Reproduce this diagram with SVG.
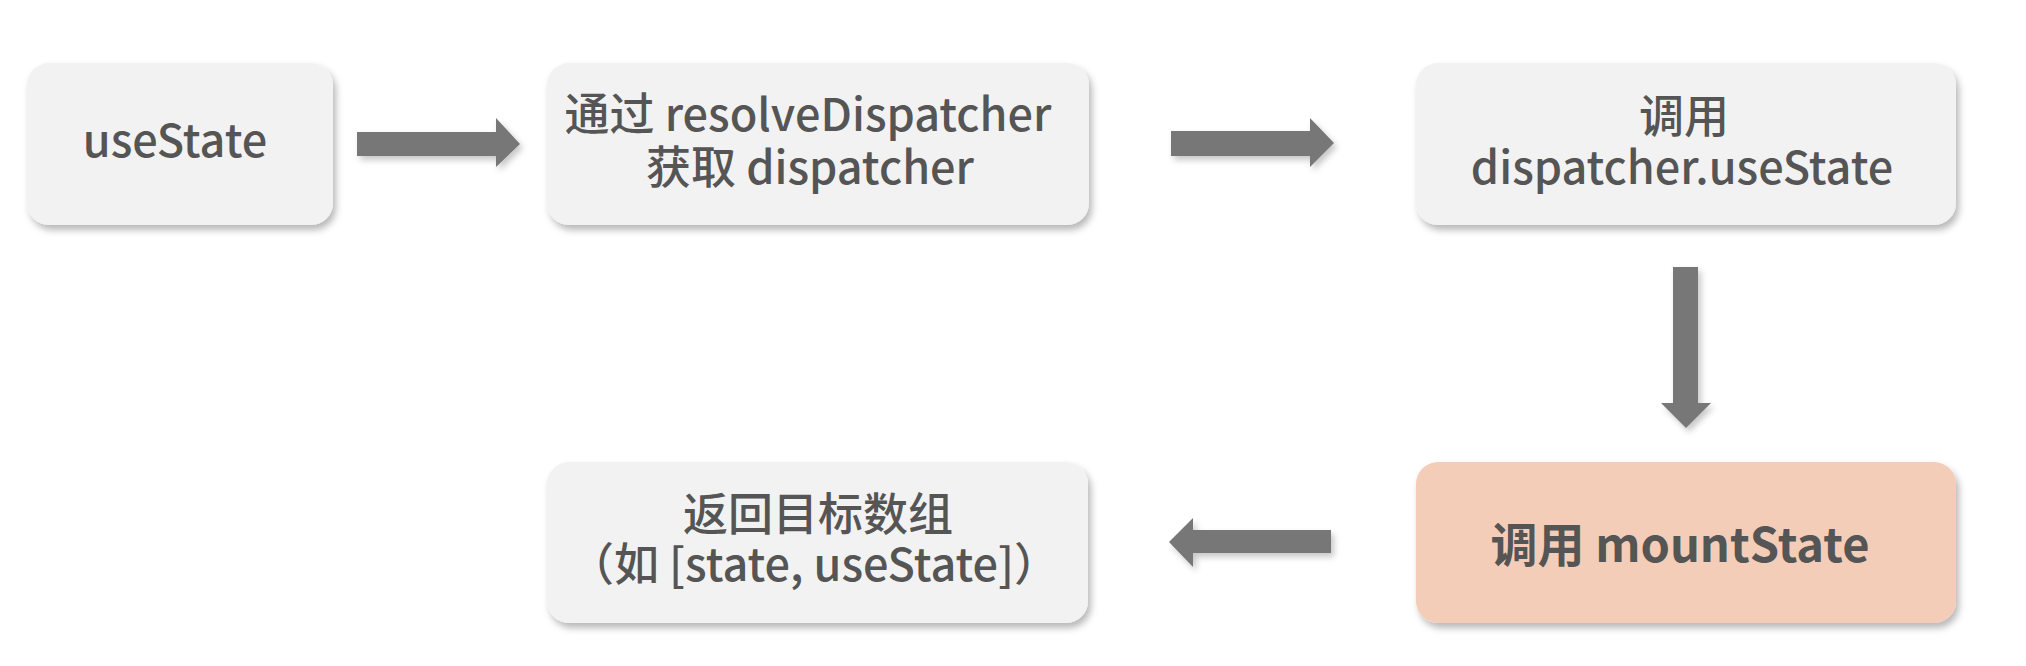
<svg xmlns="http://www.w3.org/2000/svg" width="2026" height="666" viewBox="0 0 2026 666">
<defs>
<filter id="sh" x="-10%" y="-10%" width="120%" height="130%">
<feDropShadow dx="3" dy="5" stdDeviation="3.5" flood-color="#000" flood-opacity="0.28"/>
</filter>
<filter id="ash" x="-20%" y="-30%" width="140%" height="170%">
<feDropShadow dx="3" dy="4" stdDeviation="3" flood-color="#000" flood-opacity="0.22"/>
</filter>
</defs>
<style>
.box{fill:#f2f2f2;filter:url(#sh)}
.hot{fill:#f4cdb8;filter:url(#sh)}
.t{font-family:"Noto Sans CJK SC","Noto Sans",sans-serif;font-size:45px;font-weight:500;fill:#555555;text-anchor:middle}
.b{font-weight:bold;font-size:47px}
.arr{fill:#777777;filter:url(#ash)}
</style>
<rect width="2026" height="666" fill="#ffffff"/>
<g id="n1">
<rect class="box" x="27" y="63" width="306" height="162" rx="22"/>
<text class="t" x="175" y="157">useState</text>
</g>
<g id="n2">
<rect class="box" x="547" y="63" width="542" height="162" rx="22"/>
<text class="t" x="808" y="131">通过 resolveDispatcher</text>
<text class="t" x="810" y="184">获取 dispatcher</text>
</g>
<g id="n3">
<rect class="box" x="1416" y="63" width="540" height="162" rx="22"/>
<text class="t" x="1684" y="133">调用</text>
<text class="t" x="1682" y="184">dispatcher.useState</text>
</g>
<g id="n4">
<rect class="hot" x="1416" y="462" width="540" height="161" rx="22"/>
<text class="t b" x="1680" y="562">调用 mountState</text>
</g>
<g id="n5">
<rect class="box" x="547" y="462" width="541" height="161" rx="22"/>
<text class="t" x="818" y="531">返回目标数组</text>
<text class="t" x="814" y="581">（如 [state, useState]）</text>
</g>
<g id="connectors">
<polygon class="arr" points="357,132 496,132 496,118 520,144 496,167 496,156 357,156"/>
<polygon class="arr" points="1171,131 1310,131 1310,118 1334,143 1310,167 1310,156 1171,156"/>
<polygon class="arr" points="1673,267 1698,267 1698,403 1711,403 1686,428 1661,403 1673,403"/>
<polygon class="arr" points="1331,530 1193,530 1193,518 1169,542 1193,567 1193,553 1331,553"/>
</g>
</svg>
